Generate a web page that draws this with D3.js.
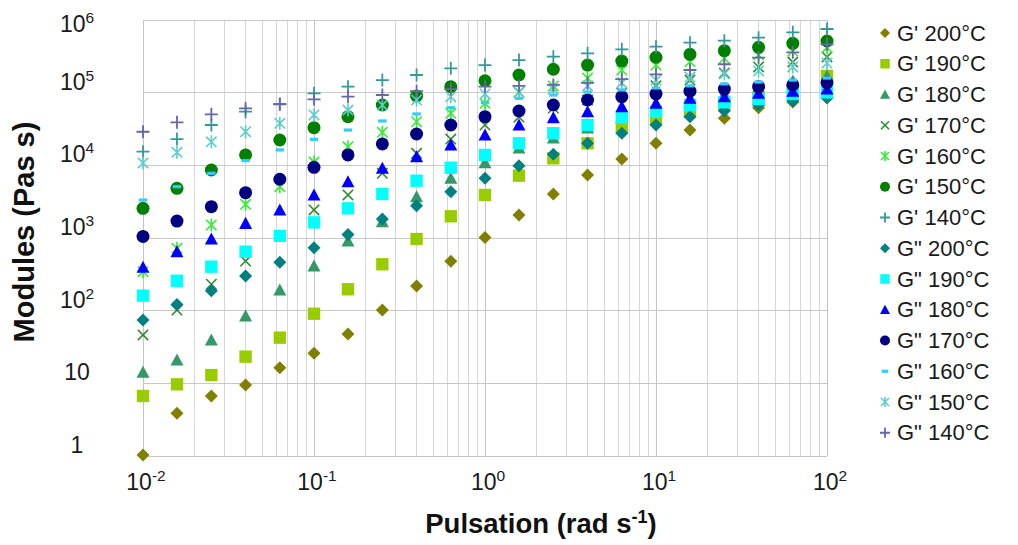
<!DOCTYPE html>
<html>
<head>
<meta charset="utf-8">
<script src="https://cdn.jsdelivr.net/npm/d3@7"></script>
<style>
  html, body { margin: 0; padding: 0; background: #ffffff; }
  svg { display: block; font-family: Arial, "Liberation Sans", sans-serif; }
</style>
</head>
<body>
<svg id="chart" width="1018" height="545"></svg>
<script>
// ---------------- data ----------------
const pulsation = [0.01, 0.0158, 0.0251, 0.0398, 0.0631, 0.1, 0.158, 0.251, 0.398, 0.631,
                   1, 1.58, 2.51, 3.98, 6.31, 10, 15.8, 25.1, 39.8, 63.1, 100];

const gp200 = [1.03, 3.87, 6.7, 9.5, 16.4, 25.9, 47.7, 102, 218, 478, 1016, 2070, 4030, 7360, 12200, 20100, 30600, 44400, 62100, 74400, 84500];
const gp190 = [6.7, 9.7, 13.0, 23.3, 42.5, 90.8, 197, 435, 968, 1990, 3910, 7200, 12500, 20100, 34000, 43400, 54700, 67600, 81800, 109000, 170000];
const gp180 = [14.2, 20.9, 39.5, 84.5, 192, 412, 910, 1680, 3700, 6630, 10900, 17300, 23800, 32700, 44800, 57700, 74400, 95900, 120000, 145000, 170000];
const gp170 = [46.3, 102, 231, 482, 1070, 2430, 3910, 7770, 14600, 23000, 35900, 46200, 61500, 79300, 98900, 124000, 149000, 187000, 226000, 264000, 310000];
const gp160 = [344, 721, 1510, 2910, 5080, 11100, 18000, 28500, 39800, 52000, 71400, 101000, 123000, 159000, 205000, 240000, 267000, 297000, 330000, 374000, 416000];
const gp150 = [2560, 4830, 8630, 13900, 22300, 33000, 46700, 67600, 90000, 121000, 146000, 175000, 210000, 240000, 273000, 307000, 337000, 378000, 421000, 478000, 514000];
const gp140 = [15400, 23000, 35900, 54700, 69800, 98000, 121000, 149000, 175000, 216000, 240000, 281000, 313000, 348000, 395000, 429000, 487000, 519000, 571000, 677000, 752000];
const gs200 = [74.4, 122, 188, 300, 463, 736, 1120, 1820, 2780, 4340, 6630, 9890, 14200, 20100, 27600, 35900, 46700, 56500, 67600, 76800, 85300];
const gs190 = [161, 258, 403, 648, 1070, 1640, 2560, 4030, 6150, 9270, 13900, 20100, 27600, 35900, 45200, 54700, 67600, 73700, 81800, 95900, 101000];
const gs180 = [395, 648, 968, 1590, 2430, 3910, 5960, 9100, 13100, 19000, 26100, 35900, 45200, 54700, 64100, 71400, 83600, 88000, 98000, 105000, 112000];
const gs170 = [1050, 1710, 2700, 4200, 6430, 9400, 13900, 19700, 27000, 35900, 46700, 55900, 67600, 79300, 88000, 95900, 105000, 112000, 121000, 128000, 137000];
const gs160 = [3330, 5080, 7770, 11600, 16300, 22800, 30600, 40800, 50900, 62100, 72800, 83600, 92900, 102000, 109000, 116000, 124000, 132000, 140000, 149000, 159000];
const gs150 = [10800, 15100, 21100, 29000, 37900, 49300, 57700, 67600, 79300, 88000, 95900, 102000, 112000, 124000, 136000, 149000, 164000, 181000, 199000, 226000, 256000];
const gs140 = [29000, 39100, 50400, 60900, 69100, 81100, 88000, 92900, 105000, 112000, 121000, 124000, 128000, 136000, 154000, 179000, 205000, 246000, 303000, 359000, 463000];

const seriesNames = ["G' 200°C", "G' 190°C", "G' 180°C", "G' 170°C", "G' 160°C", "G' 150°C", "G' 140°C",
                     "G\" 200°C", "G\" 190°C", "G\" 180°C", "G\" 170°C", "G\" 160°C", "G\" 150°C", "G\" 140°C"];
const seriesValues = [gp200, gp190, gp180, gp170, gp160, gp150, gp140,
                      gs200, gs190, gs180, gs170, gs160, gs150, gs140];
const seriesMarkers = ["diamond", "square", "triangle", "x", "asterisk", "circle", "plus",
                       "diamond", "square", "triangle", "circle", "dash", "asterisk", "plus"];
const seriesColors = ["#808000", "#99cc00", "#339966", "#2e8b2e", "#33ee33", "#008000", "#339999",
                      "#008080", "#00ffff", "#0000ff", "#000080", "#33ccff", "#5ccccc", "#6666aa"];

const xTickExponents = [-2, -1, 0, 1, 2];
const yTickExponents = [0, 1, 2, 3, 4, 5, 6];
const xTitle = "Pulsation (rad s";
const xTitleSup = "-1";
const yTitle = "Modules (Pas s)";

// ---------------- layout ----------------
const svg = d3.select("#chart");
const pLeft = 143, pRight = 827, pTop = 20, pBottom = 456;

const x = d3.scaleLog().domain([0.01, 100]).range([pLeft, pRight]);
const y = d3.scaleLog().domain([1, 1e6]).range([pBottom, pTop]);

// grid
const grid = svg.append("g");
grid.selectAll("line.v").data(x.ticks()).join("line")
  .attr("x1", d => x(d)).attr("x2", d => x(d))
  .attr("y1", pTop).attr("y2", pBottom)
  .attr("stroke", d => Math.abs(Math.log10(d) - Math.round(Math.log10(d))) < 1e-6 ? "#c4c4c4" : "#d6d6d6")
  .attr("stroke-width", 1)
  .attr("shape-rendering", "crispEdges");
grid.selectAll("line.h").data(yTickExponents.map(e => Math.pow(10, e))).join("line")
  .attr("x1", pLeft).attr("x2", pRight)
  .attr("y1", d => y(d)).attr("y2", d => y(d))
  .attr("stroke", "#c8c8c8").attr("stroke-width", 1)
  .attr("shape-rendering", "crispEdges");

// tick labels
const yl = svg.append("g").attr("font-size", 23).attr("fill", "#1a1a1a").attr("text-anchor", "middle");
yTickExponents.forEach(e => {
  const t = yl.append("text")
    .attr("x", 77)
    .attr("y", Math.max(y(Math.pow(10, e)) - 3, 32));
  if (e === 0) t.text("1");
  else if (e === 1) t.text("10");
  else {
    t.append("tspan").text("10");
    t.append("tspan").attr("font-size", 15.5).attr("dy", -9).text(e);
  }
});

const xl = svg.append("g").attr("font-size", 23).attr("fill", "#1a1a1a").attr("text-anchor", "middle");
xTickExponents.forEach(e => {
  const t = xl.append("text").attr("x", x(Math.pow(10, e)) + 3).attr("y", 490);
  t.append("tspan").text("10");
  t.append("tspan").attr("font-size", 15.5).attr("dy", -9).text(e);
});

// axis titles
const xt = svg.append("text").attr("x", 541).attr("y", 533)
  .attr("text-anchor", "middle").attr("font-size", 27.5).attr("font-weight", "bold").attr("fill", "#111");
xt.append("tspan").text(xTitle);
xt.append("tspan").attr("font-size", 18).attr("dy", -10).text(xTitleSup);
xt.append("tspan").attr("dy", 10).text(")");

svg.append("text")
  .attr("transform", "translate(34,232) rotate(-90)")
  .attr("text-anchor", "middle").attr("font-size", 29).attr("font-weight", "bold").attr("fill", "#111")
  .text(yTitle);

// markers
function drawMarker(g, type, color, s) {
  const h = s / 2;
  switch (type) {
    case "diamond":
      g.append("path").attr("d", `M0,${-h}L${h},0L0,${h}L${-h},0Z`).attr("fill", color); break;
    case "square":
      g.append("rect").attr("x", -h * 0.95).attr("y", -h * 0.95).attr("width", s * 0.95).attr("height", s * 0.95).attr("fill", color); break;
    case "triangle":
      g.append("path").attr("d", `M0,${-h}L${h},${h * 0.85}L${-h},${h * 0.85}Z`).attr("fill", color); break;
    case "circle":
      g.append("circle").attr("r", h).attr("fill", color); break;
    case "x": {
      const a = h * 0.8;
      g.append("path").attr("d", `M${-a},${-a}L${a},${a}M${-a},${a}L${a},${-a}`)
        .attr("stroke", color).attr("stroke-width", 1.6).attr("fill", "none"); break;
    }
    case "asterisk": {
      const a = h * 0.8;
      g.append("path").attr("d", `M${-a},${-a}L${a},${a}M${-a},${a}L${a},${-a}M0,${-h}L0,${h}`)
        .attr("stroke", color).attr("stroke-width", 1.6).attr("fill", "none"); break;
    }
    case "plus":
      g.append("path").attr("d", `M${-h},0L${h},0M0,${-h}L0,${h}`)
        .attr("stroke", color).attr("stroke-width", 1.8).attr("fill", "none"); break;
    case "dash":
      g.append("rect").attr("x", -h * 0.65).attr("y", -1.6).attr("width", s * 0.65).attr("height", 3.2).attr("fill", color); break;
  }
}

const plot = svg.append("g");
seriesValues.forEach((vals, si) => {
  const sg = plot.append("g");
  vals.forEach((v, i) => {
    const g = sg.append("g").attr("transform", `translate(${x(pulsation[i])},${y(v)})`);
    drawMarker(g, seriesMarkers[si], seriesColors[si], 13);
  });
});

// legend
const legend = svg.append("g");
seriesNames.forEach((name, k) => {
  const cy = 33 + k * 30.75;
  const g = legend.append("g").attr("transform", `translate(885,${cy})`);
  drawMarker(g, seriesMarkers[k], seriesColors[k], 10);
  legend.append("text").attr("x", 897).attr("y", cy + 7.5)
    .attr("font-size", 22).attr("fill", "#1a1a1a").text(name);
});
</script>
</body>
</html>
